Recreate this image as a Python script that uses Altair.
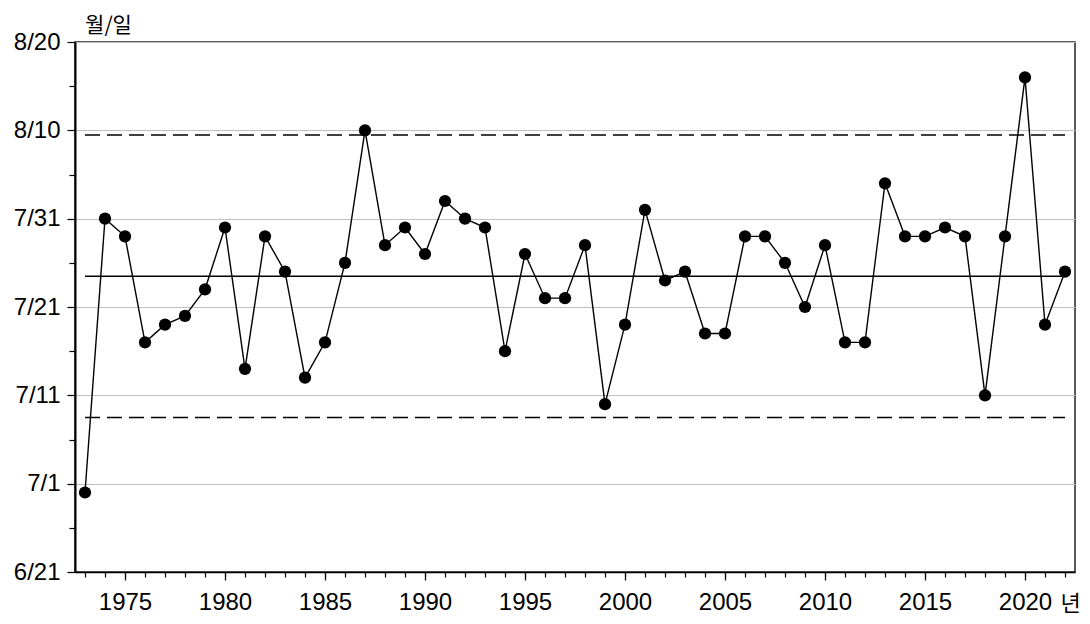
import altair as alt
import pandas as pd

years = list(range(1973, 2023))
onset_dates = [
    "6/30", "7/31", "7/29", "7/17", "7/19", "7/20", "7/23", "7/30", "7/14", "7/29",
    "7/25", "7/13", "7/17", "7/26", "8/10", "7/28", "7/30", "7/27", "8/2", "7/31",
    "7/30", "7/16", "7/27", "7/22", "7/22", "7/28", "7/10", "7/19", "8/1", "7/24",
    "7/25", "7/18", "7/18", "7/29", "7/29", "7/26", "7/21", "7/28", "7/17", "7/17",
    "8/4", "7/29", "7/29", "7/30", "7/29", "7/11", "7/29", "8/16", "7/19", "7/25",
]
y_major_values = list(range(0, 61, 10))   # days after 6/21
y_minor_values = list(range(5, 60, 10))
x_major_values = list(range(1975, 2021, 5))
x_minor_values = years

base_day = pd.Timestamp("2000-06-21")
days = [(pd.to_datetime("2000/" + s, format="%Y/%m/%d") - base_day).days for s in onset_dates]
df = pd.DataFrame({"year": years, "day": days})

mean_v = df["day"].mean()
sd_v = df["day"].std(ddof=0)
mean_df = pd.DataFrame({"year": [years[0]], "year_end": [years[-1]], "day": [mean_v]})
band_df = pd.DataFrame({"year": [years[0]] * 2, "year_end": [years[-1]] * 2,
                        "day": [mean_v + 2 * sd_v, mean_v - 2 * sd_v]})

NUM_FONT = "Liberation Sans"
KR_FONT = "Noto Sans CJK KR"

x_axis = alt.Axis(
    orient="bottom",
    values=x_major_values, format="d", tickSize=8,
    grid=False,
    labelFont=NUM_FONT, labelFontSize=24, labelColor="black",
    labelPadding=10, labelFlush=False, labelOverlap=False,
    domainColor="black", domainWidth=1.5, tickColor="black", tickWidth=1.2,
    title="년", titleFont=KR_FONT, titleFontSize=22, titleFontWeight="normal",
    titleColor="black", titleAngle=0, titleX=995, titleY=31,
    titleAlign="center", titleBaseline="middle",
)
x_axis_minor = alt.Axis(
    orient="bottom", values=x_minor_values, tickSize=5, labels=False,
    domain=False, grid=False, title=None, tickColor="black", tickWidth=1.2,
)
y_axis = alt.Axis(
    orient="left",
    values=y_major_values,
    labelExpr="timeFormat(datetime(2000, 5, 21 + datum.value), '%-m/%-d')",
    tickSize=8,
    grid=True, gridColor="#c0c0c0", gridWidth=1.2,
    labelFont=NUM_FONT, labelFontSize=24, labelColor="black", labelPadding=7,
    labelFlush=False, labelOverlap=False,
    domainColor="black", domainWidth=2, tickColor="black", tickWidth=1.2,
    title="월/일", titleFont=KR_FONT, titleFontSize=21, titleFontWeight="normal",
    titleColor="black", titleAngle=0, titleX=33, titleY=-17,
    titleAlign="center", titleBaseline="middle",
)
y_axis_minor = alt.Axis(
    orient="left", values=y_minor_values, tickSize=6, labels=False,
    domain=False, grid=False, title=None, tickColor="black", tickWidth=1.2,
)

xs = alt.Scale(domain=[1972.5, 2022.5], nice=False, zero=False)
ys = alt.Scale(domain=[0, 60], nice=False, zero=False)

minor = alt.Chart(df).mark_point(opacity=0).encode(
    x=alt.X("year:Q", scale=xs, axis=x_axis_minor),
    y=alt.Y("day:Q", scale=ys, axis=y_axis_minor),
)
line = alt.Chart(df).mark_line(color="black", strokeWidth=1.4).encode(
    x=alt.X("year:Q", scale=xs, axis=x_axis),
    y=alt.Y("day:Q", scale=ys, axis=y_axis),
)
pts = alt.Chart(df).mark_circle(size=150, color="black", opacity=1).encode(
    x=alt.X("year:Q", scale=xs, axis=x_axis),
    y=alt.Y("day:Q", scale=ys, axis=y_axis),
)
mean_rule = alt.Chart(mean_df).mark_rule(color="black", strokeWidth=1.4).encode(
    x=alt.X("year:Q", scale=xs, axis=x_axis), x2="year_end:Q",
    y=alt.Y("day:Q", scale=ys, axis=y_axis),
)
band_rule = alt.Chart(band_df).mark_rule(color="black", strokeWidth=1.4, strokeDash=[15, 7]).encode(
    x=alt.X("year:Q", scale=xs, axis=x_axis), x2="year_end:Q",
    y=alt.Y("day:Q", scale=ys, axis=y_axis),
)

main = alt.layer(line, mean_rule, band_rule, pts)

chart = alt.layer(minor, main).resolve_axis(x="independent", y="independent").properties(
    width=1000, height=530,
    autosize=alt.AutoSizeParams(type="none"),
    padding={"left": 67, "top": 34, "right": 7, "bottom": 44},
    background="white",
).configure_view(stroke="#222", strokeWidth=1.5)

chart.save("out.html", embed_options={"renderer": "svg", "actions": False})
